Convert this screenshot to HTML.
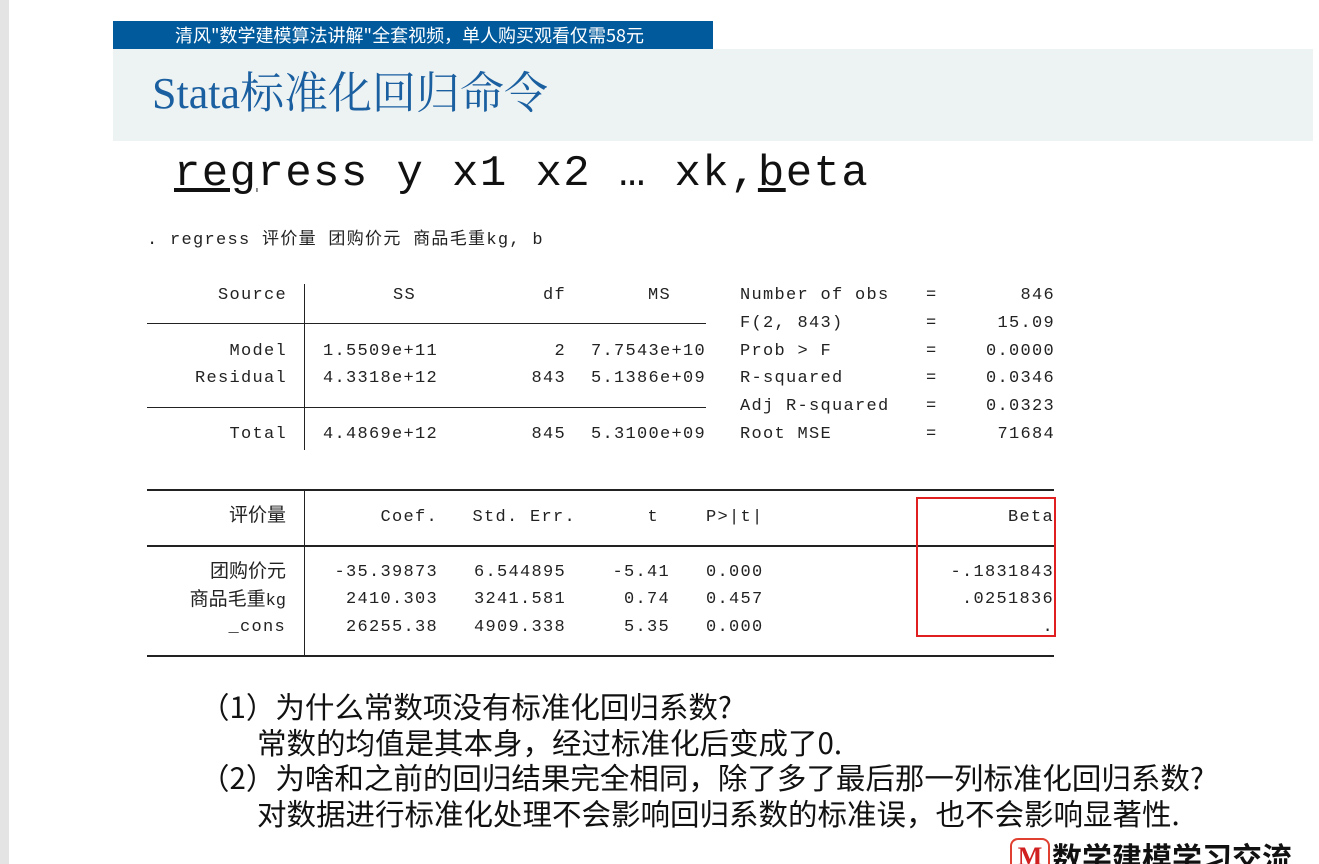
<!DOCTYPE html>
<html style="width:1319px;height:864px;overflow:hidden"><head><meta charset="utf-8">
<style>
body{margin:0;width:1319px;height:864px;background:#fff;position:relative;overflow:hidden;font-family:"Liberation Sans","Noto Sans CJK SC",sans-serif}
.m{position:absolute;font-family:"Liberation Mono","Noto Sans CJK SC",monospace;font-size:17px;letter-spacing:1.3px;color:#222;line-height:20px;white-space:pre;margin-top:2px}
.r{text-align:right}
.hl{position:absolute;height:1px;background:#222}
.vl{position:absolute;width:1px;background:#222}
.q{position:absolute;font-size:29.5px;color:#111;white-space:pre;line-height:36px;font-family:"Noto Sans CJK SC","Liberation Sans",sans-serif}
</style></head><body>
<div style="position:absolute;left:0;top:0;width:9px;height:864px;background:#e4e4e4"></div>
<div style="position:absolute;left:113px;top:21px;width:600px;height:28px;background:#005a9c;color:#fff;font-size:18px;line-height:28px;text-indent:62px;font-family:'Noto Sans CJK SC',sans-serif;white-space:nowrap">清风"数学建模算法讲解"全套视频，单人购买观看仅需58元</div>
<div style="position:absolute;left:113px;top:49px;width:1200px;height:92px;background:#edf2f2"></div>
<div style="position:absolute;left:152px;top:66px;font-size:44px;color:#1a5fa0;font-family:'Liberation Serif','Noto Serif CJK SC',serif;line-height:56px;white-space:nowrap">Stata标准化回归命令</div>
<div class="m" style="left:174px;top:148px;font-size:44px;letter-spacing:1.4px;line-height:48px;color:#111"><u>reg</u>ress y x1 x2 … xk,<u>b</u>eta</div>
<div class="m" style="left:147px;top:229px">. regress 评价量 团购价元 商品毛重kg, b</div>

<div class="m r" style="left:147px;top:284px;width:559px"><span style="position:absolute;right:419px">Source</span><span style="position:absolute;right:290px">SS</span><span style="position:absolute;right:140px">df</span><span style="position:absolute;right:35px">MS</span>&nbsp;</div>
<div class="hl" style="left:147px;top:323px;width:559px"></div>
<div class="hl" style="left:147px;top:407px;width:559px"></div>
<div class="vl" style="left:304px;top:284px;height:166px"></div>
<div class="m r" style="left:147px;top:340px;width:559px"><span style="position:absolute;right:419px">Model</span><span style="position:absolute;right:268px">1.5509e+11</span><span style="position:absolute;right:140px">2</span><span style="position:absolute;right:0">7.7543e+10</span>&nbsp;</div>
<div class="m r" style="left:147px;top:367px;width:559px"><span style="position:absolute;right:419px">Residual</span><span style="position:absolute;right:268px">4.3318e+12</span><span style="position:absolute;right:140px">843</span><span style="position:absolute;right:0">5.1386e+09</span>&nbsp;</div>
<div class="m r" style="left:147px;top:423px;width:559px"><span style="position:absolute;right:419px">Total</span><span style="position:absolute;right:268px">4.4869e+12</span><span style="position:absolute;right:140px">845</span><span style="position:absolute;right:0">5.3100e+09</span>&nbsp;</div>

<div>
<div class="m" style="left:740px;top:284px">Number of obs</div><div class="m" style="left:926px;top:284px">=</div><div class="m r" style="right:264px;top:284px">846</div>
<div class="m" style="left:740px;top:312px">F(2, 843)</div><div class="m" style="left:926px;top:312px">=</div><div class="m r" style="right:264px;top:312px">15.09</div>
<div class="m" style="left:740px;top:340px">Prob &gt; F</div><div class="m" style="left:926px;top:340px">=</div><div class="m r" style="right:264px;top:340px">0.0000</div>
<div class="m" style="left:740px;top:367px">R-squared</div><div class="m" style="left:926px;top:367px">=</div><div class="m r" style="right:264px;top:367px">0.0346</div>
<div class="m" style="left:740px;top:395px">Adj R-squared</div><div class="m" style="left:926px;top:395px">=</div><div class="m r" style="right:264px;top:395px">0.0323</div>
<div class="m" style="left:740px;top:423px">Root MSE</div><div class="m" style="left:926px;top:423px">=</div><div class="m r" style="right:264px;top:423px">71684</div>
</div>

<div class="hl" style="left:147px;top:489px;width:907px;height:2px"></div>
<div class="hl" style="left:147px;top:545px;width:907px;height:2px"></div>
<div class="hl" style="left:147px;top:655px;width:907px;height:2px"></div>
<div class="vl" style="left:304px;top:489px;height:167px"></div>

<div>
<div class="m r" style="right:1033px;top:504px;font-size:19px;letter-spacing:0">评价量</div>
<div class="m r" style="right:881px;top:506px">Coef.</div>
<div class="m r" style="right:743px;top:506px">Std. Err.</div>
<div class="m r" style="right:660px;top:506px">t</div>
<div class="m" style="left:706px;top:506px">P&gt;|t|</div>
<div class="m r" style="right:265px;top:506px">Beta</div>

<div class="m r" style="right:1033px;top:560px;font-size:19px;letter-spacing:0">团购价元</div>
<div class="m r" style="right:881px;top:561px">-35.39873</div>
<div class="m r" style="right:753px;top:561px">6.544895</div>
<div class="m r" style="right:649px;top:561px">-5.41</div>
<div class="m" style="left:706px;top:561px">0.000</div>
<div class="m r" style="right:265px;top:561px">-.1831843</div>

<div class="m r" style="right:1033px;top:588px;font-size:19px;letter-spacing:0">商品毛重<span style="font-size:17px">kg</span></div>
<div class="m r" style="right:881px;top:588px">2410.303</div>
<div class="m r" style="right:753px;top:588px">3241.581</div>
<div class="m r" style="right:649px;top:588px">0.74</div>
<div class="m" style="left:706px;top:588px">0.457</div>
<div class="m r" style="right:265px;top:588px">.0251836</div>

<div class="m r" style="right:1033px;top:616px">_cons</div>
<div class="m r" style="right:881px;top:616px">26255.38</div>
<div class="m r" style="right:753px;top:616px">4909.338</div>
<div class="m r" style="right:649px;top:616px">5.35</div>
<div class="m" style="left:706px;top:616px">0.000</div>
<div class="m r" style="right:265px;top:616px">.</div>
</div>
<div style="position:absolute;left:916px;top:497px;width:136px;height:136px;border:2px solid #e02020"></div>

<div class="q" style="left:200px;top:688px">（1）为什么常数项没有标准化回归系数?</div>
<div class="q" style="left:257px;top:724px">常数的均值是其本身，经过标准化后变成了0.</div>
<div class="q" style="left:200px;top:759px">（2）为啥和之前的回归结果完全相同，除了多了最后那一列标准化回归系数?</div>
<div class="q" style="left:257px;top:795px">对数据进行标准化处理不会影响回归系数的标准误，也不会影响显著性.</div>

<div style="position:absolute;left:1010px;top:838px;width:36px;height:34px;border:2px solid #e04030;border-radius:8px;color:#d02020;font:bold 26px 'Liberation Serif',serif;text-align:center;line-height:34px">M</div>
<div style="position:absolute;left:1052px;top:836px;font-size:30px;font-weight:bold;color:#111;font-family:'Noto Sans CJK SC',sans-serif;line-height:40px;white-space:nowrap">数学建模学习交流</div>
</body></html>
